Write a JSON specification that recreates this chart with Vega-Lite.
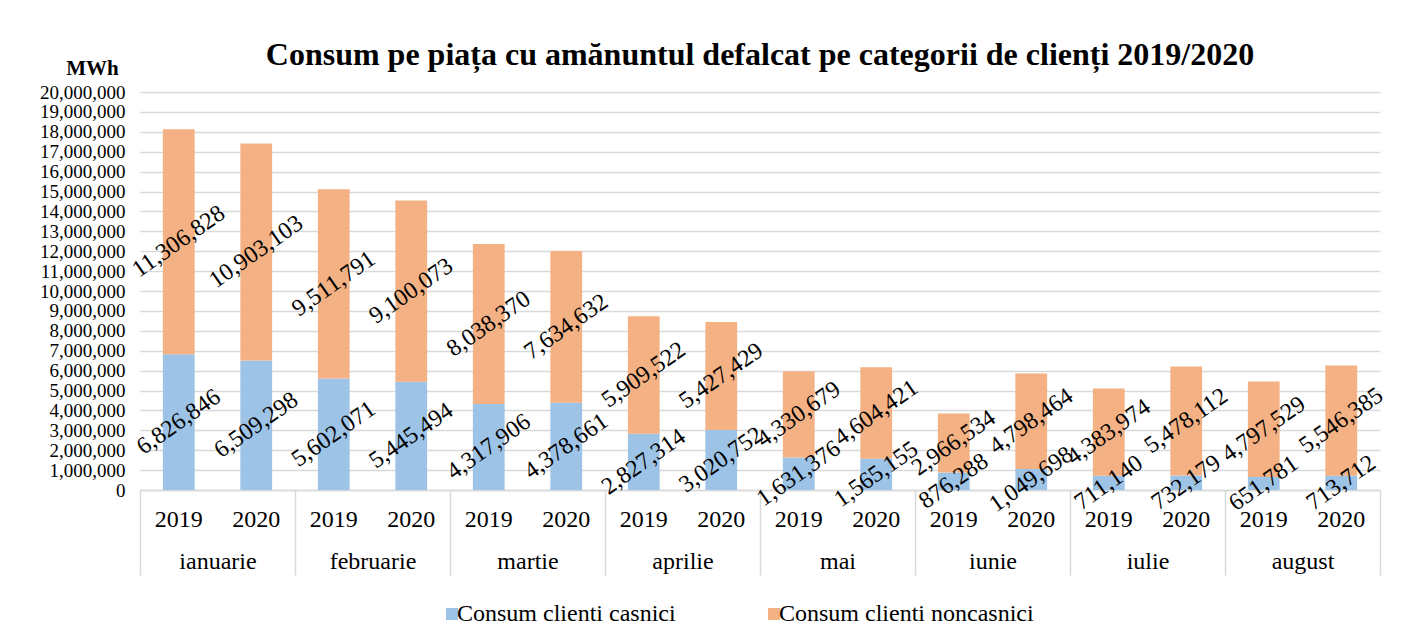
{
  "$schema": "https://vega.github.io/schema/vega-lite/v6.json",
  "width": 1240,
  "height": 398,
  "autosize": {"type": "none"},
  "padding": {"left": 140, "top": 92, "right": 26, "bottom": 134},
  "background": "white",
  "title": {
    "text": "Consum pe piața cu amănuntul defalcat pe categorii de clienți 2019/2020",
    "font": "Liberation Serif",
    "fontSize": 32,
    "fontWeight": "bold",
    "color": "black",
    "anchor": "middle",
    "offset": -15
  },
  "config": {"view": {"stroke": null}, "font": "Liberation Serif", "text": {"font": "Liberation Serif"}},
  "data": {
    "values": [
      {"month": "ianuarie", "year": "2019", "cat": "Consum clienti casnici", "ord": 0, "value": 6826846},
      {"month": "ianuarie", "year": "2019", "cat": "Consum clienti noncasnici", "ord": 1, "value": 11306828},
      {"month": "ianuarie", "year": "2020", "cat": "Consum clienti casnici", "ord": 0, "value": 6509298},
      {"month": "ianuarie", "year": "2020", "cat": "Consum clienti noncasnici", "ord": 1, "value": 10903103},
      {"month": "februarie", "year": "2019", "cat": "Consum clienti casnici", "ord": 0, "value": 5602071},
      {"month": "februarie", "year": "2019", "cat": "Consum clienti noncasnici", "ord": 1, "value": 9511791},
      {"month": "februarie", "year": "2020", "cat": "Consum clienti casnici", "ord": 0, "value": 5445494},
      {"month": "februarie", "year": "2020", "cat": "Consum clienti noncasnici", "ord": 1, "value": 9100073},
      {"month": "martie", "year": "2019", "cat": "Consum clienti casnici", "ord": 0, "value": 4317906},
      {"month": "martie", "year": "2019", "cat": "Consum clienti noncasnici", "ord": 1, "value": 8038370},
      {"month": "martie", "year": "2020", "cat": "Consum clienti casnici", "ord": 0, "value": 4378661},
      {"month": "martie", "year": "2020", "cat": "Consum clienti noncasnici", "ord": 1, "value": 7634632},
      {"month": "aprilie", "year": "2019", "cat": "Consum clienti casnici", "ord": 0, "value": 2827314},
      {"month": "aprilie", "year": "2019", "cat": "Consum clienti noncasnici", "ord": 1, "value": 5909522},
      {"month": "aprilie", "year": "2020", "cat": "Consum clienti casnici", "ord": 0, "value": 3020752},
      {"month": "aprilie", "year": "2020", "cat": "Consum clienti noncasnici", "ord": 1, "value": 5427429},
      {"month": "mai", "year": "2019", "cat": "Consum clienti casnici", "ord": 0, "value": 1631376},
      {"month": "mai", "year": "2019", "cat": "Consum clienti noncasnici", "ord": 1, "value": 4330679},
      {"month": "mai", "year": "2020", "cat": "Consum clienti casnici", "ord": 0, "value": 1565155},
      {"month": "mai", "year": "2020", "cat": "Consum clienti noncasnici", "ord": 1, "value": 4604421},
      {"month": "iunie", "year": "2019", "cat": "Consum clienti casnici", "ord": 0, "value": 876288},
      {"month": "iunie", "year": "2019", "cat": "Consum clienti noncasnici", "ord": 1, "value": 2966534},
      {"month": "iunie", "year": "2020", "cat": "Consum clienti casnici", "ord": 0, "value": 1049698},
      {"month": "iunie", "year": "2020", "cat": "Consum clienti noncasnici", "ord": 1, "value": 4798464},
      {"month": "iulie", "year": "2019", "cat": "Consum clienti casnici", "ord": 0, "value": 711140},
      {"month": "iulie", "year": "2019", "cat": "Consum clienti noncasnici", "ord": 1, "value": 4383974},
      {"month": "iulie", "year": "2020", "cat": "Consum clienti casnici", "ord": 0, "value": 732179},
      {"month": "iulie", "year": "2020", "cat": "Consum clienti noncasnici", "ord": 1, "value": 5478112},
      {"month": "august", "year": "2019", "cat": "Consum clienti casnici", "ord": 0, "value": 651781},
      {"month": "august", "year": "2019", "cat": "Consum clienti noncasnici", "ord": 1, "value": 4797529},
      {"month": "august", "year": "2020", "cat": "Consum clienti casnici", "ord": 0, "value": 713712},
      {"month": "august", "year": "2020", "cat": "Consum clienti noncasnici", "ord": 1, "value": 5546385}
    ]
  },
  "transform": [
    {"stack": "value", "groupby": ["month", "year"], "sort": [{"field": "ord"}], "as": ["v0", "v1"]}
  ],
  "encoding": {
    "x": {
      "field": "month",
      "type": "nominal",
      "sort": ["ianuarie", "februarie", "martie", "aprilie", "mai", "iunie", "iulie", "august"],
      "scale": {"paddingInner": 0, "paddingOuter": 0},
      "axis": {
        "title": null,
        "labelFont": "Liberation Serif",
        "labelFontSize": 24,
        "labelColor": "black",
        "labelAngle": 0,
        "labelBaseline": "alphabetic",
        "labelPadding": -7,
        "tickBand": "extent",
        "tickSize": 85,
        "tickColor": "#D9D9D9",
        "tickWidth": 1.5,
        "domainColor": "#D9D9D9",
        "domainWidth": 1.5
      }
    },
    "xOffset": {
      "field": "year",
      "type": "nominal",
      "scale": {"paddingInner": 0.59, "paddingOuter": 0.295}
    }
  },
  "layer": [
    {
      "mark": {"type": "bar"},
      "encoding": {
        "y": {
          "field": "v1",
          "type": "quantitative",
          "scale": {"domain": [0, 20000000], "nice": false},
          "axis": {
            "title": "MWh",
            "titleFont": "Liberation Serif",
            "titleFontSize": 21,
            "titleFontWeight": "bold",
            "titleColor": "black",
            "titleAngle": 0,
            "titleAlign": "center",
            "titleBaseline": "alphabetic",
            "titleX": -48,
            "titleY": -18,
            "labelFont": "Liberation Serif",
            "labelFontSize": 19,
            "labelColor": "black",
            "labelPadding": 15,
            "ticks": false,
            "domain": false,
            "gridColor": "#D9D9D9",
            "gridWidth": 1.5,
            "tickCount": 20,
            "format": ",d"
          }
        },
        "y2": {"field": "v0"},
        "color": {
          "field": "cat",
          "type": "nominal",
          "scale": {"domain": ["Consum clienti casnici", "Consum clienti noncasnici"], "range": ["#9DC3E6", "#F4B183"]},
          "legend": {
            "orient": "none",
            "legendX": 300,
            "legendY": 510,
            "direction": "horizontal",
            "title": null,
            "symbolType": "square",
            "symbolSize": 144,
            "symbolStrokeWidth": 0,
            "symbolOpacity": 1,
            "labelFont": "Liberation Serif",
            "labelFontSize": 24,
            "labelColor": "black",
            "labelLimit": 400,
            "labelOffset": -7,
            "columnPadding": 86
          }
        }
      }
    },
    {
      "transform": [{"fold": ["v0", "v1"], "as": ["edge", "pos"]}],
      "mark": {"type": "text", "angle": -35, "align": "center", "baseline": "middle", "font": "Liberation Serif", "fontSize": 24, "color": "black"},
      "encoding": {
        "y": {"field": "pos", "aggregate": "mean", "type": "quantitative"},
        "text": {"field": "value", "type": "quantitative", "format": ",d"}
      }
    },
    {
      "transform": [{"filter": "datum.ord == 0"}],
      "mark": {"type": "text", "align": "center", "baseline": "alphabetic", "dy": 37, "font": "Liberation Serif", "fontSize": 24, "color": "black"},
      "encoding": {
        "y": {"datum": 0, "type": "quantitative"},
        "text": {"field": "year", "type": "nominal"}
      }
    }
  ]
}
